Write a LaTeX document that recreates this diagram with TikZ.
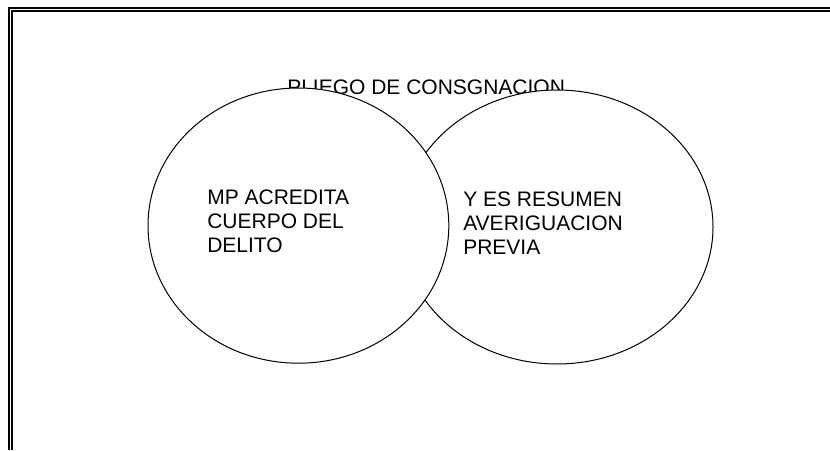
\documentclass[tikz,border=0pt]{standalone}
\usepackage{fontspec}
\setmainfont{Liberation Sans}
\usepackage{xcolor}
\usepackage{tikz}
\usetikzlibrary{positioning}
\tikzset{
    frameouter/.style={line width=0.55mm},
    frameinner/.style={line width=0.3mm},
    bubble/.style={fill=white, draw=black, line width=0.25mm},
    bubbletext/.style={anchor=north west, inner sep=0pt, align=left,
        font=\fontsize{5.25mm}{6mm}\selectfont}
}

\begin{document}
\begin{tikzpicture}
    \useasboundingbox (0,0) rectangle (207.5mm, 112.5mm);
    % double frame, cut off at right and bottom
    \draw[frameouter] (2.3mm, 0) -- (2.3mm, 110.5mm) -- (207.5mm, 110.5mm);
    \draw[frameinner] (3mm, 0) -- (3mm, 109.75mm) -- (207.5mm, 109.75mm);
    % title, partly hidden by the circles
    \node[anchor=base west, inner sep=0pt, font=\fontsize{5.25mm}{6mm}\selectfont]
        (title) at (71.75mm, 88.75mm) {PLIEGO DE CONSGNACION};
    \draw[bubble] (139.25mm, 55.75mm) ellipse (39mm and 34.25mm);
    \draw[bubble] (74.6mm, 56.1mm) ellipse (37.6mm and 34.4mm);
    \node[bubbletext] (acredita) at (51.75mm, 65mm) {MP ACREDITA\\CUERPO DEL\\DELITO};
    \node[bubbletext] (resumen) at (115.75mm, 64.5mm) {Y ES RESUMEN\\AVERIGUACION\\PREVIA};
\end{tikzpicture}
\end{document}
